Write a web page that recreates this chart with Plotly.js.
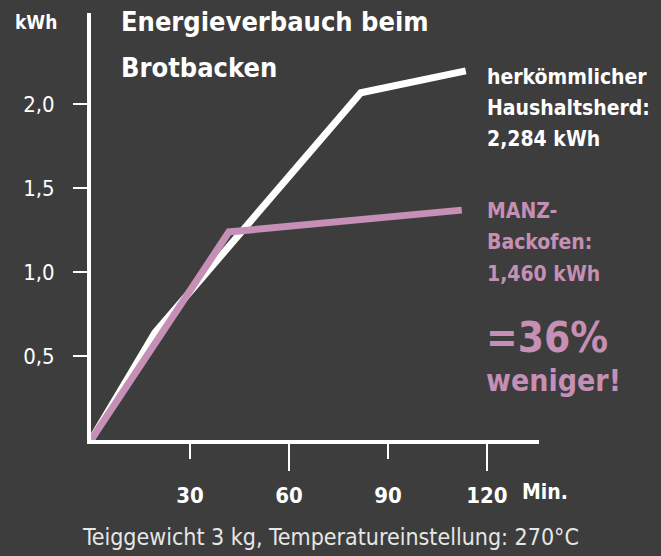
<!DOCTYPE html>
<html>
<head>
<meta charset="utf-8">
<script src="https://cdn.plot.ly/plotly-3.0.1.min.js"></script>
<style>
html,body{margin:0;padding:0;background:#3d3d3d;}
#chart{width:661px;height:556px;}
</style>
</head>
<body>
<div id="chart"></div>
<script>
// Data
const herdMinutes = [0, 19.4, 81.8, 113.6];
const herdKwh = [0, 0.64, 2.07, 2.20];
const manzMinutes = [0, 41.8, 112.4];
const manzKwh = [0, 1.24, 1.37];

const xLongTickVals = [60, 120];
const xLongTickText = ["60", "120"];
const xShortTickVals = [30, 90];
const xShortTickText = ["30", "90"];
const yTickVals = [0.5, 1.0, 1.5, 2.0];

const titleLines = ["Energieverbauch beim", "Brotbacken"];
const herdLabel = ["herkömmlicher", "Haushaltsherd:", "2,284 kWh"];
const manzLabel = ["MANZ-", "Backofen:", "1,460 kWh"];
const savingLabel = ["=36%", "weniger!"];
const footnote = "Teiggewicht 3 kg, Temperatureinstellung: 270°C";

const WHITE = "#ffffff";
const PINK = "#c68fb6";
const BG = "#3d3d3d";
const FONT = "Liberation Sans Narrow, DejaVu Sans Condensed, sans-serif";

const traces = [
  {x: herdMinutes, y: herdKwh, type: "scatter", mode: "lines",
   line: {color: WHITE, width: 7}, hoverinfo: "skip", showlegend: false},
  {x: manzMinutes, y: manzKwh, type: "scatter", mode: "lines",
   line: {color: PINK, width: 7}, hoverinfo: "skip", showlegend: false},
  {x: manzMinutes, y: manzKwh, xaxis: "x2", type: "scatter", mode: "lines",
   line: {color: PINK, width: 0}, opacity: 0, hoverinfo: "skip", showlegend: false}
];

const xRange = [0, 135.8];
const yRange = [0, 2.545];

const annotations = [];
function txt(text, x, y, size, color, bold, xanchor) {
  annotations.push({
    text: bold ? "<b>" + text + "</b>" : text,
    xref: "paper", yref: "paper", x: x, y: y,
    xanchor: xanchor || "left", yanchor: "middle",
    showarrow: false, font: {family: FONT, size: size, color: color}
  });
}
// convert pixel positions to paper coordinates
const L = 91, R = 539, T = 13, B = 440.5;
const px = p => (p - L) / (R - L);
const py = p => (B - p) / (B - T);

txt(titleLines[0], px(119), py(22), 27, WHITE, true);
txt(titleLines[1], px(119), py(68), 27, WHITE, true);
txt("kWh", px(36), py(22), 19, WHITE, true, "center");
txt("Min.", px(520), py(493), 21, WHITE, true);
[77, 108, 139].forEach((yy, i) => txt(herdLabel[i], px(485), py(yy), 21, WHITE, true));
[211, 242, 274].forEach((yy, i) => txt(manzLabel[i], px(485), py(yy), 21, PINK, true));
txt(savingLabel[0], px(484), py(338), 42, PINK, true);
txt(savingLabel[1], px(484), py(381), 30, PINK, true);
txt(footnote, px(330), py(538), 23, "#e6e6e6", false, "center");

const bold = arr => arr.map(t => "<b>" + t + "</b>");

const layout = {
  width: 661, height: 556,
  margin: {l: L, r: 661 - R, t: T, b: 556 - B, pad: 0},
  paper_bgcolor: BG, plot_bgcolor: BG,
  separators: ",.",
  showlegend: false,
  font: {family: FONT, color: WHITE},
  xaxis: {
    range: xRange, showgrid: false, zeroline: false,
    showline: true, linecolor: WHITE, linewidth: 4,
    ticks: "outside", ticklen: 27, tickwidth: 2, tickcolor: WHITE,
    tickvals: xLongTickVals, ticktext: bold(xLongTickText),
    ticklabelstandoff: 6,
    tickfont: {family: FONT, size: 22, color: WHITE}
  },
  xaxis2: {
    range: xRange, overlaying: "x", anchor: "y", side: "bottom",
    showgrid: false, zeroline: false,
    showline: true, linecolor: WHITE, linewidth: 4,
    ticks: "outside", ticklen: 15, tickwidth: 2, tickcolor: WHITE,
    tickvals: xShortTickVals, ticktext: bold(xShortTickText),
    ticklabelstandoff: 18,
    tickfont: {family: FONT, size: 22, color: WHITE}
  },
  yaxis: {
    range: yRange, showgrid: false, zeroline: false,
    showline: true, linecolor: WHITE, linewidth: 4,
    ticks: "outside", ticklen: 14, tickwidth: 2, tickcolor: WHITE,
    tickvals: yTickVals, tickformat: ".1f",
    ticklabelstandoff: 14,
    tickfont: {family: FONT, size: 22, color: WHITE}
  },
  annotations: annotations
};

Plotly.newPlot("chart", traces, layout, {displayModeBar: false, staticPlot: true});
</script>
</body>
</html>
